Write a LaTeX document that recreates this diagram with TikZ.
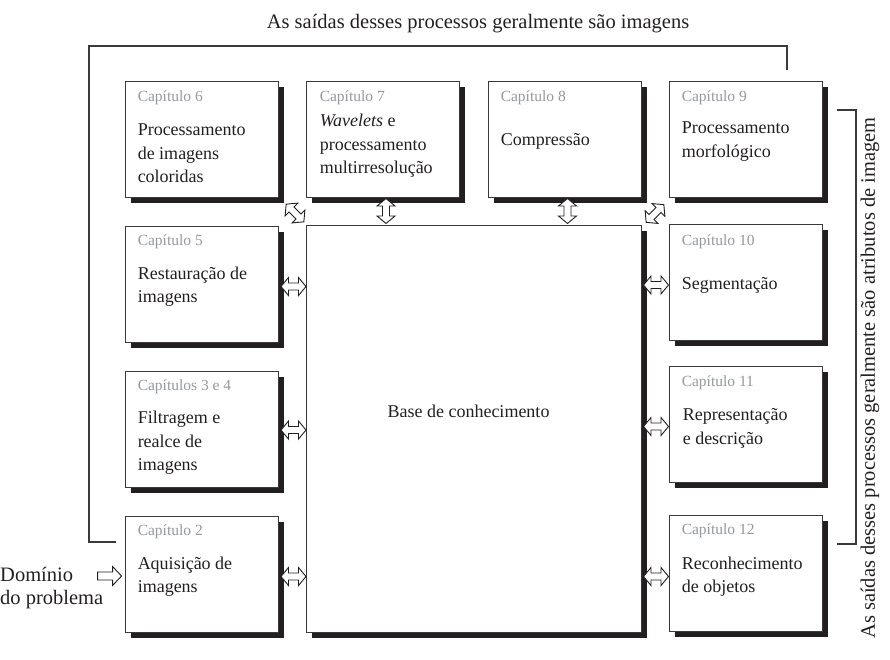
\documentclass[tikz,border=0pt]{standalone}
\usepackage{fontspec}
\setmainfont{Liberation Serif}
\usetikzlibrary{calc,shadows}
\definecolor{ink}{HTML}{231F20}
\definecolor{capgray}{HTML}{9498A0}
\definecolor{framec}{HTML}{3A3A3A}
\tikzset{
 chbox/.style={draw=framec, line width=0.9pt, fill=white, minimum width=153pt, minimum height=116pt, inner sep=0pt,
   general shadow={shadow xshift=5.5pt, shadow yshift=-5.5pt, fill=ink}},
 caplabel/.style={anchor=west, inner sep=0pt, yshift=-2pt, text=capgray, font=\fontsize{15.5}{18}\selectfont},
 body/.style={anchor=west, inner sep=0pt, yshift=-2pt, align=left, text=ink, font=\fontsize{18}{23.5}\selectfont},
 big/.style={inner sep=0pt, text=ink, font=\fontsize{20.5}{23}\selectfont},
 blockarrow/.style={draw=ink, line width=0.9pt, fill=white, line join=miter},
 fbline/.style={draw=framec, line width=1.1pt},
 dblarrow/.pic={\path[blockarrow] (-12.5,0) -- (-5,-9) -- (-5,-3.5) -- (5,-3.5) -- (5,-9) -- (12.5,0) -- (5,9) -- (5,3.5) -- (-5,3.5) -- (-5,9) -- cycle;},
 sglarrow/.pic={\path[blockarrow] (-12,-4) -- (3,-4) -- (3,-9.5) -- (12,0) -- (3,9.5) -- (3,4) -- (-12,4) -- cycle;},
}
\begin{document}
\begin{tikzpicture}[x=1pt,y=-1pt]
\useasboundingbox (0,0) rectangle (890,659);

% boxes
\node[chbox] (c6) at (201.5,139) {};
\node[chbox] (c7) at (382.5,139) {};
\node[chbox] (c8) at (564.5,139) {};
\node[chbox] (c9) at (745.5,139) {};
\node[chbox] (c5) at (201.5,284) {};
\node[chbox] (c34) at (201.5,429) {};
\node[chbox] (c2) at (201.5,574) {};
\node[chbox] (c10) at (745.5,282.5) {};
\node[chbox] (c11) at (745.5,424) {};
\node[chbox] (c12) at (745.5,573) {};
\node[chbox, minimum width=335pt, minimum height=407pt] (base) at (473.5,428.5) {};

% labels and texts
\node[caplabel] (l6) at ($(c6.north west)+(13,15)$) {Capítulo 6};
\node[body] (t6) at ($(c6.north west)+(13,70.7)$) {Processamento\\de imagens\\coloridas};
\node[caplabel] (l7) at ($(c7.north west)+(14,15)$) {Capítulo 7};
\node[body] (t7) at ($(c7.north west)+(14,63.3)$) {\textit{Wavelets} e\\processamento\\multirresolução};
\node[caplabel] (l8) at ($(c8.north west)+(13,15)$) {Capítulo 8};
\node[body] (t8) at ($(c8.north west)+(13,59)$) {Compressão};
\node[caplabel] (l9) at ($(c9.north west)+(13,15)$) {Capítulo 9};
\node[body] (t9) at ($(c9.north west)+(13,59)$) {Processamento\\morfológico};
\node[caplabel] (l5) at ($(c5.north west)+(13,14.5)$) {Capítulo 5};
\node[body] (t5) at ($(c5.north west)+(13,59)$) {Restauração de\\imagens};
\node[caplabel] (l10) at ($(c10.north west)+(13,15.5)$) {Capítulo 10};
\node[body] (t10) at ($(c10.north west)+(13,59)$) {Segmentação};
\node[caplabel] (l34) at ($(c34.north west)+(13,14.5)$) {Capítulos 3 e 4};
\node[body] (t34) at ($(c34.north west)+(13,70.3)$) {Filtragem e\\realce de\\imagens};
\node[caplabel] (l11) at ($(c11.north west)+(13,15)$) {Capítulo 11};
\node[body] (t11) at ($(c11.north west)+(14,61)$) {Representação\\e descrição};
\node[caplabel] (l2) at ($(c2.north west)+(13,14.5)$) {Capítulo 2};
\node[body] (t2) at ($(c2.north west)+(13,59)$) {Aquisição de\\imagens};
\node[caplabel] (l12) at ($(c12.north west)+(13,14.5)$) {Capítulo 12};
\node[body] (t12) at ($(c12.north west)+(13,60)$) {Reconhecimento\\de objetos};
\node[body, anchor=center] (kb) at ($(base.center)+(-5,-19.5)$) {Base de conhecimento};

% outer texts
\node[big] (title) at (478,24) {As saídas desses processos geralmente são imagens};
\node[big, rotate=90] (side) at (870,378) {As saídas desses processos geralmente são atributos de imagem};
\node[big, anchor=west, align=left] (dom) at (0,588) {Domínio\\do problema};

% feedback line and bracket
\coordinate (fbs) at (787,70);
\coordinate (fbe) at (116,542);
\draw[fbline] (fbs) |- (89,46) |- (fbe);
\coordinate (brt) at (837,110);
\coordinate (brb) at (837,544);
\draw[fbline] (brt) -- ++(19,0) |- (brb);

% block arrows
\pic at ($(c5.east)!0.5!(base.west |- c5.east)+(1.5,2.5)$) {dblarrow};
\pic at ($(c34.east)!0.5!(base.west |- c34.east)+(1.5,1)$) {dblarrow};
\pic at ($(c2.east)!0.5!(base.west |- c2.east)+(1.5,2.5)$) {dblarrow};
\pic at ($(c10.west)!0.5!(base.east |- c10.west)+(1,2.5)$) {dblarrow};
\pic at ($(c11.west)!0.5!(base.east |- c11.west)+(1,2.5)$) {dblarrow};
\pic at ($(c12.west)!0.5!(base.east |- c12.west)+(1,3.5)$) {dblarrow};
\pic[rotate=90] at ($(c7.south)!0.5!(base.north -| c7.south)+(3.5,0)$) {dblarrow};
\pic[rotate=90] at ($(c8.south)!0.5!(base.north -| c8.south)+(3,0)$) {dblarrow};
\pic[rotate=-45] at ($(c6.south east)!0.5!(base.north west)+(3,2)$) {dblarrow};
\pic[rotate=45] at ($(c9.south west)!0.5!(base.north east)+(0,2.5)$) {dblarrow};
\pic at ($(c2.west)+(-15,2)$) {sglarrow};
\end{tikzpicture}
\end{document}
